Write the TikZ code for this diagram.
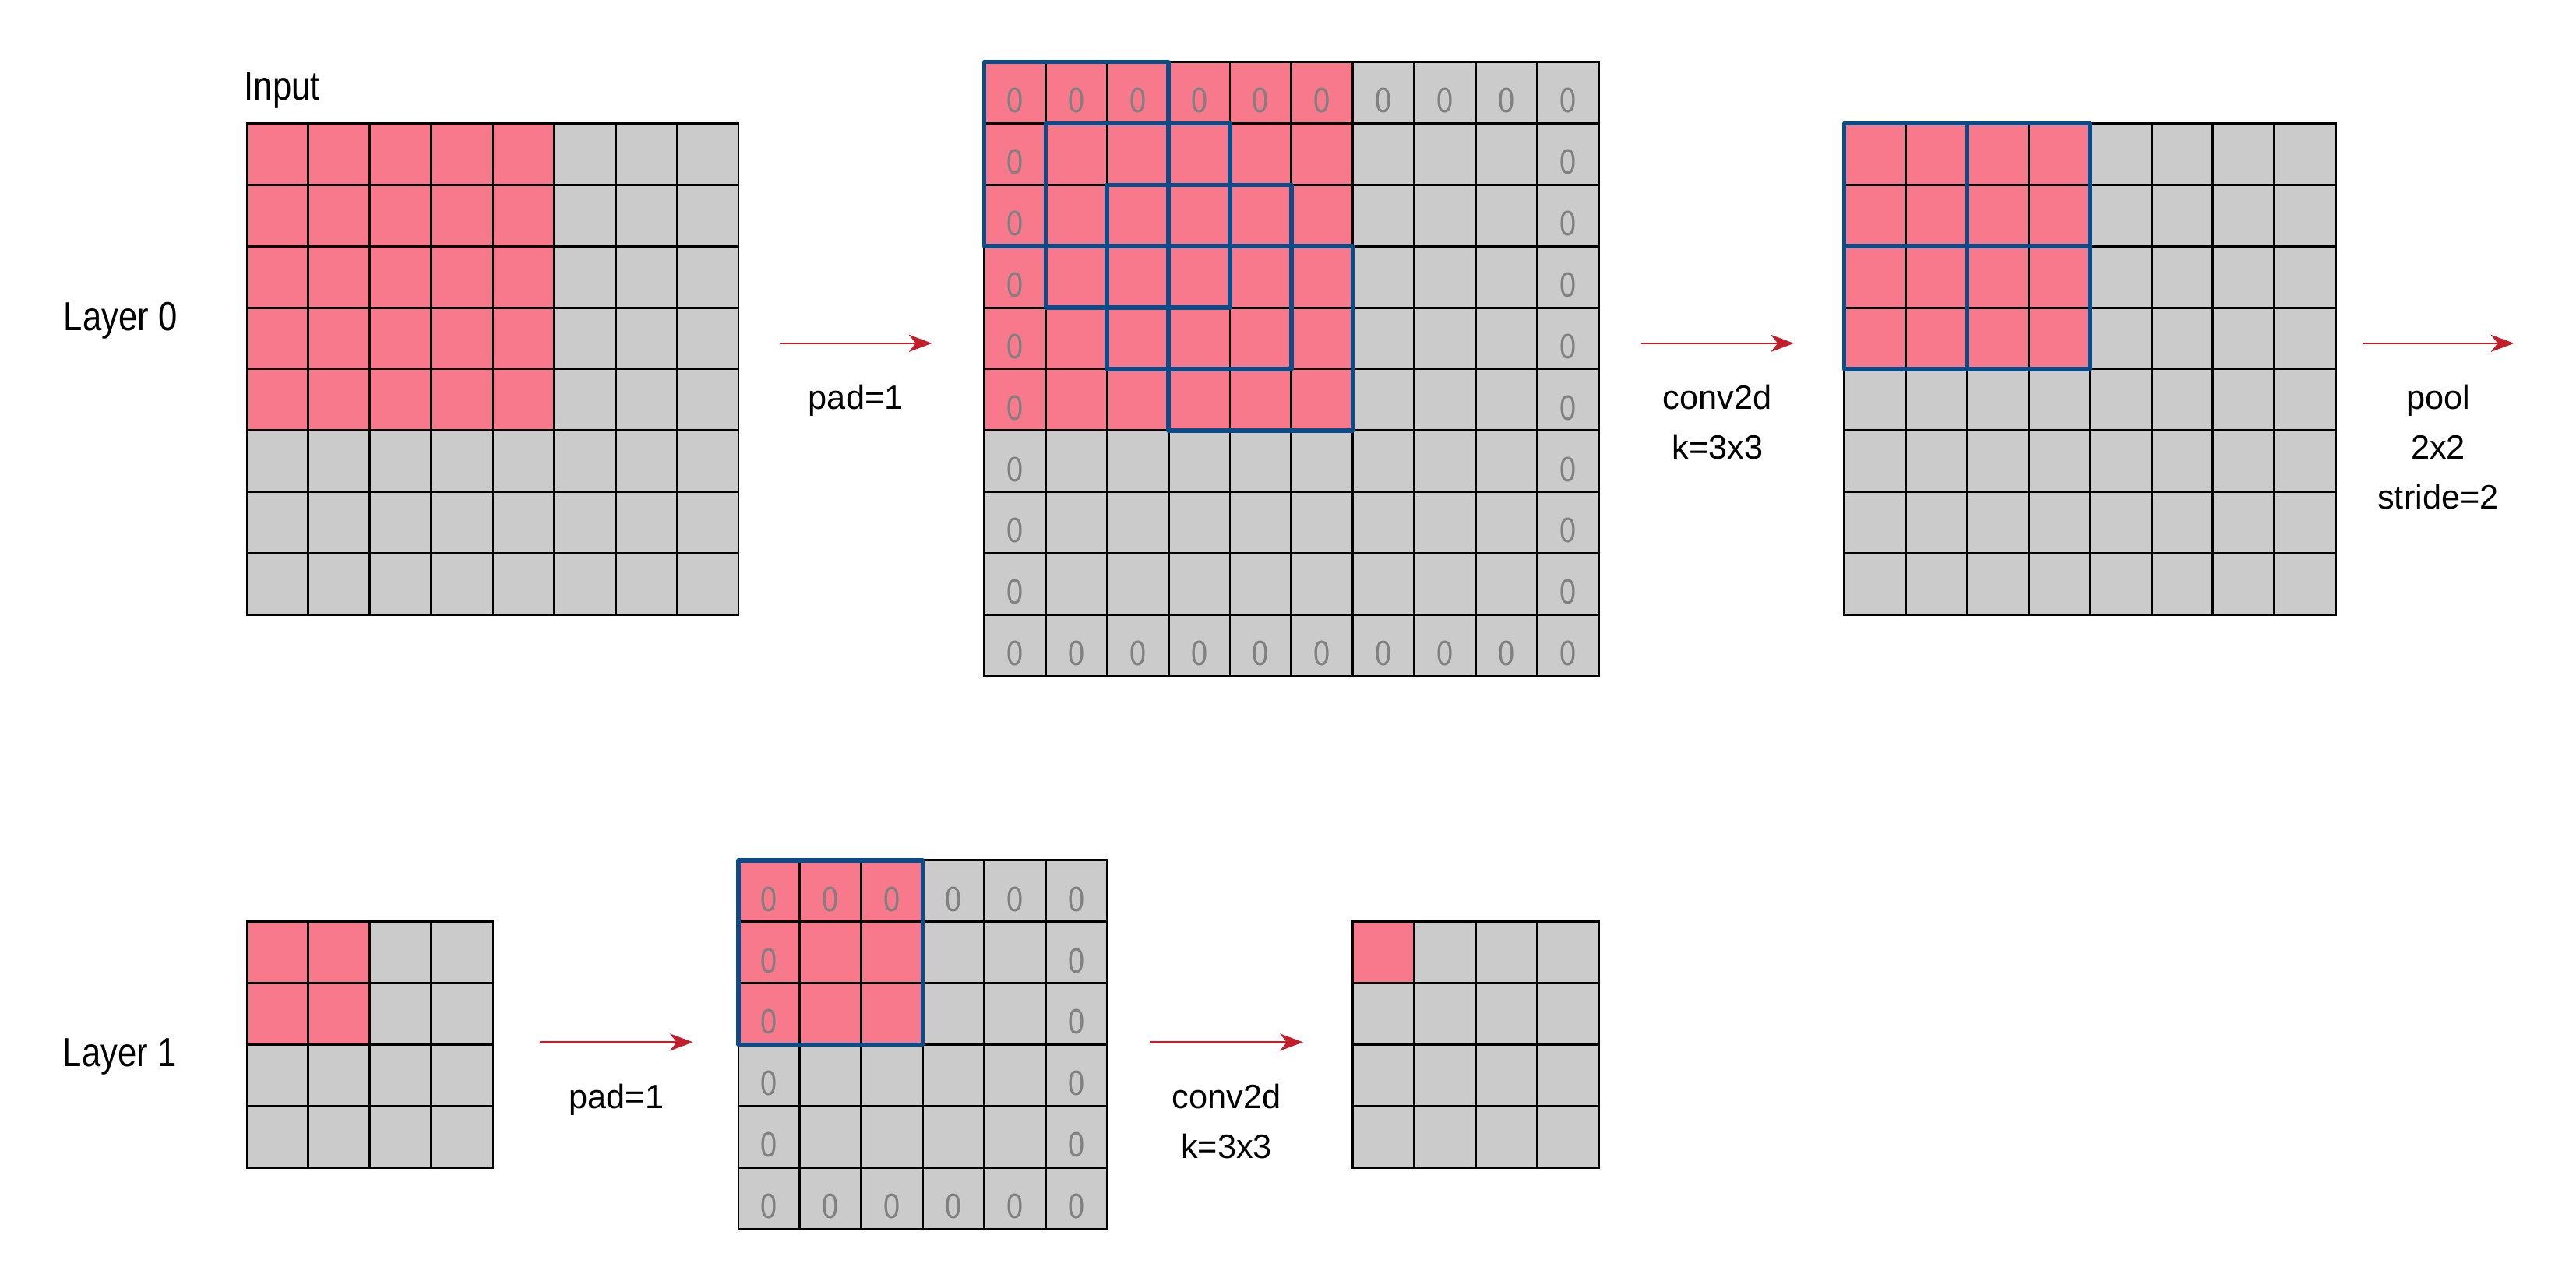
\documentclass[tikz,border=0pt]{standalone}
\usepackage{fontspec}
\setmainfont{Liberation Sans}
\newfontfamily\narrowfont[FakeStretch=0.84]{Liberation Sans}
\usepackage{tikz}
\usetikzlibrary{arrows.meta,positioning}
\definecolor{cellpink}{HTML}{F7798B}
\definecolor{cellgray}{HTML}{CBCBCB}
\definecolor{winblue}{HTML}{0A4B8A}
\definecolor{arrred}{HTML}{C41E2A}
\definecolor{zerogray}{HTML}{808080}

\begin{document}
\begin{tikzpicture}[
  x=0.8cm,y=0.8cm,
  font=\fontsize{12.5}{18.5}\selectfont,
  cell/.style={draw,line width=0.85pt,minimum size=0.8cm,inner sep=0pt,outer sep=0pt,fill=cellgray},
  zero/.style={text=zerogray,inner sep=0pt,font=\narrowfont\fontsize{13}{13}\selectfont},
  win/.style={draw=winblue,line width=1.6pt,line join=round},
  arr/.style={-{Stealth[length=8.6pt,width=6.4pt,inset=2.6pt]},draw=arrred,line width=0.65pt},
  lbl/.style={align=center,inner sep=0pt,anchor=base,yshift=-0.86cm-#1*18.5pt},
  lbl/.default=0,
  layer/.style={font=\narrowfont\fontsize{15}{18}\selectfont,inner sep=0pt}
]
\useasboundingbox (-0.02,0.01) rectangle (41.91,-20.95);
% grids: name/size/left/top/pink block/zero padding
\foreach \g/\n/\gx/\gy/\k/\z in {in0/8/4/2/5/0,pad0/10/16/1/6/1,conv0/8/30/2/4/0,
                                  in1/4/4/15/2/0,pad1/6/12/14/3/1,conv1/4/22/15/1/0}{
  \pgfmathtruncatemacro\m{\n-1}
  \foreach \r in {0,...,\m}{
    \foreach \c in {0,...,\m}{
      \def\cf{cellgray}\def\zf{0}
      \ifnum\r<\k \ifnum\c<\k \def\cf{cellpink}\fi\fi
      \ifnum\z=1
        \ifnum\r=0 \def\zf{1}\fi
        \ifnum\c=0 \def\zf{1}\fi
        \ifnum\r=\m \def\zf{1}\fi
        \ifnum\c=\m \def\zf{1}\fi
      \fi
      \node[cell,fill=\cf] (\g-\r-\c) at (\gx+\c+0.5,-\gy-\r-0.5) {};
      \ifnum\zf=1 \node[zero] (\g-z-\r-\c) at (\gx+\c+0.5,-\gy-\r-0.63) {0};\fi
    }
  }
}
% sliding windows
\foreach \k in {0,...,3}{
  \pgfmathtruncatemacro\e{\k+2}
  \draw[win] (pad0-\k-\k.north west) rectangle (pad0-\e-\e.south east);
}
\foreach \r/\c in {0/0,0/2,2/0,2/2}{
  \pgfmathtruncatemacro\rr{\r+1}\pgfmathtruncatemacro\cc{\c+1}
  \draw[win] (conv0-\r-\c.north west) rectangle (conv0-\rr-\cc.south east);
}
\draw[win] (pad1-0-0.north west) rectangle (pad1-2-2.south east);
% labels
\node[layer,anchor=base west] (inp) at (3.95,-1.62) {Input};
\node[layer,anchor=base] (lay0) at (1.94,-5.37) {Layer 0};
\node[layer,anchor=base] (lay1) at (1.93,-17.36) {Layer 1};
% arrows
\coordinate (a0s) at (12.67,-5.58); \coordinate (a0e) at (15.15,-5.58);
\coordinate (a1s) at (26.69,-5.58); \coordinate (a1e) at (29.18,-5.58);
\coordinate (a2s) at (38.43,-5.58); \coordinate (a2e) at (40.9,-5.58);
\coordinate (b0s) at (8.77,-16.96); \coordinate (b0e) at (11.26,-16.96);
\coordinate (b1s) at (18.7,-16.96); \coordinate (b1e) at (21.19,-16.96);
\draw[arr] (a0s) -- node[lbl] (t0) {pad=1} (a0e);
\draw[arr] (a1s) -- node[lbl=1] (t1) {conv2d\\k=3x3} (a1e);
\draw[arr] (a2s) -- node[lbl=2] (t2) {pool\\2x2\\stride=2} (a2e);
\draw[arr] (b0s) -- node[lbl] (t3) {pad=1} (b0e);
\draw[arr] (b1s) -- node[lbl=1] (t4) {conv2d\\k=3x3} (b1e);
\end{tikzpicture}
\end{document}
